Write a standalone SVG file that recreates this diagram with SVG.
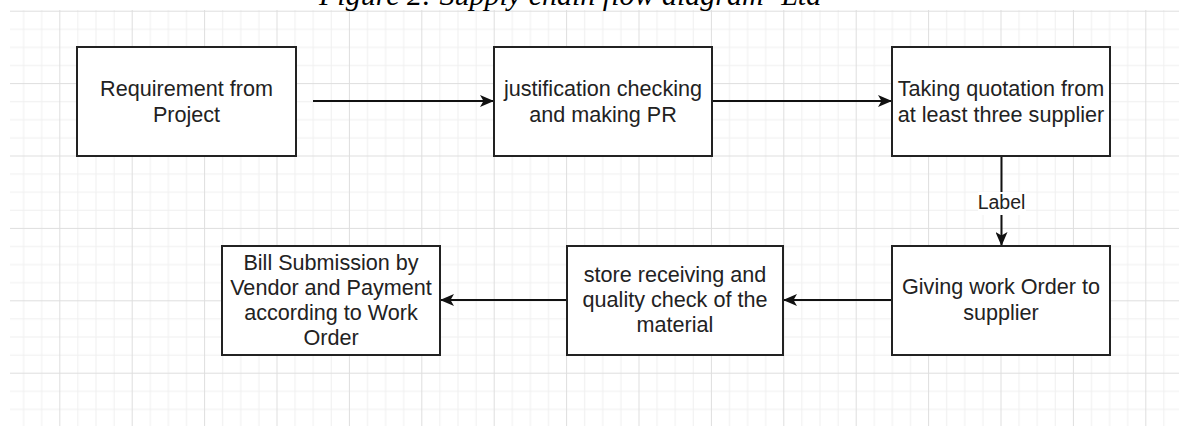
<svg xmlns="http://www.w3.org/2000/svg" width="1179" height="426" viewBox="0 0 1179 426">
<defs>
<pattern id="grid" patternUnits="userSpaceOnUse" x="-13.1" y="10.7" width="72.4" height="72.4">
<rect x="18.1" y="0" width="1" height="72.4" fill="#efefef"/>
<rect x="36.2" y="0" width="1" height="72.4" fill="#efefef"/>
<rect x="54.3" y="0" width="1" height="72.4" fill="#efefef"/>
<rect x="0" y="18.1" width="72.4" height="1" fill="#efefef"/>
<rect x="0" y="36.2" width="72.4" height="1" fill="#efefef"/>
<rect x="0" y="54.3" width="72.4" height="1" fill="#efefef"/>
<rect x="0" y="0" width="1" height="72.4" fill="#dedede"/>
<rect x="0" y="0" width="72.4" height="1" fill="#dedede"/>
</pattern>
<marker id="arrow" markerUnits="userSpaceOnUse" markerWidth="14" markerHeight="12" refX="14" refY="6" orient="auto">
<path d="M0,0 L14,6 L0,12 L3.5,6 Z" fill="#111"/>
</marker>
<style>
.box{fill:#fff;stroke:#222;stroke-width:2}
.t{font-family:"Liberation Sans",Arial,sans-serif;font-size:21.6px;fill:#222;text-anchor:middle}
.lbl{font-family:"Liberation Sans",Arial,sans-serif;font-size:19.5px;fill:#222;text-anchor:middle}
.edge{stroke:#111;stroke-width:2;fill:none;marker-end:url(#arrow)}
.title{font-family:"Liberation Serif","Times New Roman",serif;font-style:italic;font-size:30px;fill:#000}
</style>
</defs>
<rect width="1179" height="426" fill="#fff"/>
<rect x="10" y="10" width="1169" height="416" fill="url(#grid)"/>
<text class="title" x="319" y="5">Figure 2: Supply chain flow diagram- Ltd</text>
<g id="connectors">
<line class="edge" x1="313" y1="101" x2="494" y2="101"/>
<line class="edge" x1="712" y1="101" x2="892" y2="101"/>
<line class="edge" x1="1001.5" y1="156" x2="1001.5" y2="246"/>
<rect x="978" y="192" width="48" height="23" fill="#fff"/>
<text class="lbl" x="1001.5" y="209">Label</text>
<line class="edge" x1="892" y1="300" x2="783" y2="300"/>
<line class="edge" x1="567" y1="300" x2="440" y2="300"/>
</g>
<g id="node1">
<rect class="box" x="77" y="47" width="219" height="109"/>
<text class="t" x="186.5" y="96">Requirement from</text>
<text class="t" x="186.5" y="122">Project</text>
</g>
<g id="node2">
<rect class="box" x="494" y="47" width="218" height="109"/>
<text class="t" x="603" y="96">justification checking</text>
<text class="t" x="603" y="122">and making PR</text>
</g>
<g id="node3">
<rect class="box" x="892" y="47" width="218" height="109"/>
<text class="t" x="1001" y="96">Taking quotation from</text>
<text class="t" x="1001" y="122">at least three supplier</text>
</g>
<g id="node4">
<rect class="box" x="892" y="246" width="218" height="109"/>
<text class="t" x="1001" y="294">Giving work Order to</text>
<text class="t" x="1001" y="320">supplier</text>
</g>
<g id="node5">
<rect class="box" x="567" y="246" width="216" height="109"/>
<text class="t" x="675" y="282">store receiving and</text>
<text class="t" x="675" y="307">quality check of the</text>
<text class="t" x="675" y="332">material</text>
</g>
<g id="node6">
<rect class="box" x="222" y="246" width="218" height="109"/>
<text class="t" x="331" y="270">Bill Submission by</text>
<text class="t" x="331" y="295">Vendor and Payment</text>
<text class="t" x="331" y="320">according to Work</text>
<text class="t" x="331" y="345">Order</text>
</g>
</svg>
